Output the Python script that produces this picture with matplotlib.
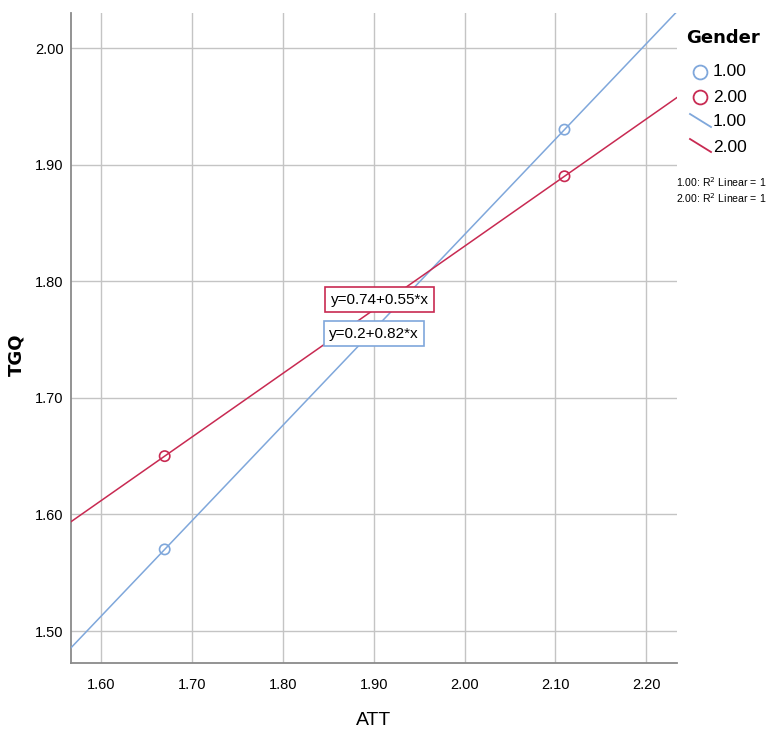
import matplotlib
matplotlib.use("Agg")
import matplotlib.pyplot as plt
from matplotlib.lines import Line2D
import numpy as np

# Data
genders = ["1.00", "2.00"]
att_points = [1.67, 2.11]
tgq_g1 = [1.57, 1.93]
tgq_g2 = [1.65, 1.89]
eq_labels = ["y=0.2+0.82*x", "y=0.74+0.55*x"]
x_ticks = [1.60, 1.70, 1.80, 1.90, 2.00, 2.10, 2.20]
y_ticks = [1.50, 1.60, 1.70, 1.80, 1.90, 2.00]

blue = "#7fa7db"
red = "#c82a52"
narrow = ["Liberation Sans Narrow", "Liberation Sans", "DejaVu Sans"]

fig = plt.figure(figsize=(7.73, 7.36), dpi=100)
ax = fig.add_axes([0.0915, 0.0992, 0.876 - 0.0915, 0.9823 - 0.0992])
xlim = (1.5666, 2.234)
ylim = (1.4726, 2.030)
ax.set_xlim(*xlim)
ax.set_ylim(*ylim)

ax.set_xticks(x_ticks)
ax.set_yticks(y_ticks)
ax.set_xticklabels([f"{v:.2f}" for v in x_ticks], family=narrow, fontsize=10.5)
ax.set_yticklabels([f"{v:.2f}" for v in y_ticks], family=narrow, fontsize=10.5)
ax.tick_params(axis="x", length=0, pad=11)
ax.tick_params(axis="y", length=0, pad=5)
ax.grid(True, color="#c4c4c4", linewidth=1.0)
ax.set_axisbelow(True)
for s in ["top", "right"]:
    ax.spines[s].set_visible(False)
for s in ["left", "bottom"]:
    ax.spines[s].set_color("#8a8a8a")
    ax.spines[s].set_linewidth(1.3)

xs = np.array(xlim)
colors = [blue, red]
pts = [tgq_g1, tgq_g2]
for i in range(2):
    slope, icpt = np.polyfit(att_points, pts[i], 1)
    ax.plot(xs, icpt + slope * xs, color=colors[i], lw=1.1, clip_on=True, zorder=3)
    ax.scatter(att_points, pts[i], s=55, facecolors="none", edgecolors=colors[i], linewidths=1.2, zorder=4)

# equation labels
ax.text(1.9067, 1.7843, eq_labels[1], ha="center", va="center", family=narrow, fontsize=11,
        bbox=dict(boxstyle="square,pad=0.35", fc="white", ec=red, lw=1.2), zorder=5)
ax.text(1.9001, 1.7551, eq_labels[0], ha="center", va="center", family=narrow, fontsize=11,
        bbox=dict(boxstyle="square,pad=0.35", fc="white", ec=blue, lw=1.2), zorder=5)

ax.set_xlabel("ATT", family=narrow, fontsize=14)
ax.xaxis.set_label_coords(0.4986, -0.075)
ax.set_ylabel("TGQ", fontsize=13, fontweight="bold")
ax.yaxis.set_label_coords(-0.0754, 0.474)

# legend (manual, figure coords)
W, H = 773, 736
def fx(px): return px / W
def fy(py): return 1 - py / H

fig.text(fx(686), fy(38), "Gender", fontsize=13, fontweight="bold", va="center", ha="left")
for i, yy in enumerate([72, 97]):
    fig.add_artist(Line2D([fx(700)], [fy(yy)], marker="o", markersize=10, mfc="none",
                          mec=colors[i], mew=1.3, transform=fig.transFigure))
    fig.text(fx(713), fy(yy), genders[i], family=narrow, fontsize=12.5, va="center", ha="left")
for i, yy in enumerate([122, 147]):
    fig.add_artist(Line2D([fx(690), fx(711)], [fy(yy - 8), fy(yy + 5)], color=colors[i], lw=1.3,
                          transform=fig.transFigure))
    fig.text(fx(713), fy(yy), genders[i], family=narrow, fontsize=12.5, va="center", ha="left")
for i, yy in enumerate([182, 198]):
    fig.text(fx(676), fy(yy), genders[i] + ": R$^2$ Linear = 1", family=narrow, fontsize=7.6,
             va="center", ha="left")

fig.savefig("out.png", dpi=100, facecolor="white")
